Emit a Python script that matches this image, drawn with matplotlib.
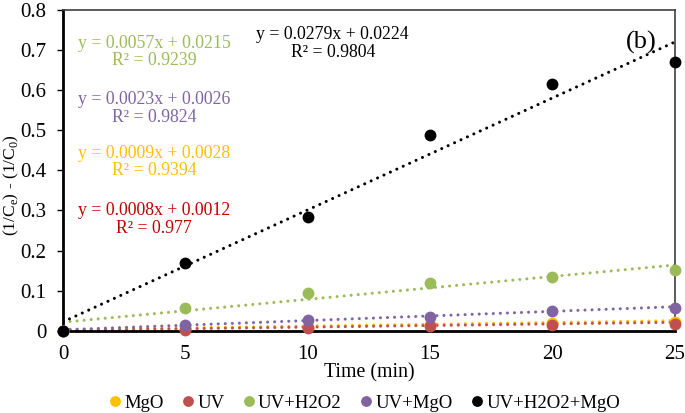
import numpy as np
import matplotlib
matplotlib.use("Agg")
import matplotlib.pyplot as plt

plt.rcParams['font.family'] = ['Liberation Serif', 'DejaVu Serif']
plt.rcParams['mathtext.fontset'] = 'custom'
plt.rcParams['mathtext.rm'] = 'Liberation Serif'

time_min = [0, 5, 10, 15, 20, 25]
labels = ['MgO', 'UV', 'UV+H2O2', 'UV+MgO', 'UV+H2O2+MgO']
values = {
    'MgO': [0, 0.005, 0.009, 0.014, 0.020, 0.022],
    'UV': [0, 0.002, 0.008, 0.012, 0.015, 0.018],
    'UV+H2O2': [0, 0.058, 0.095, 0.118, 0.133, 0.151],
    'UV+MgO': [0, 0.015, 0.027, 0.035, 0.050, 0.056],
    'UV+H2O2+MgO': [0, 0.170, 0.284, 0.489, 0.616, 0.670],
}
slopes = {'MgO': 0.0009, 'UV': 0.0008, 'UV+H2O2': 0.0057, 'UV+MgO': 0.0023, 'UV+H2O2+MgO': 0.0279}
intercepts = {'MgO': 0.0028, 'UV': 0.0012, 'UV+H2O2': 0.0215, 'UV+MgO': 0.0026, 'UV+H2O2+MgO': 0.0224}
r2 = {'MgO': '0.9394', 'UV': '0.977', 'UV+H2O2': '0.9239', 'UV+MgO': '0.9824', 'UV+H2O2+MgO': '0.9804'}

colors = {'MgO': '#FFC000', 'UV': '#C0504D', 'UV+H2O2': '#9BBB59', 'UV+MgO': '#8064A2', 'UV+H2O2+MgO': '#000000'}
text_colors = {'MgO': '#FFC000', 'UV': '#C00000', 'UV+H2O2': '#9BBB59', 'UV+MgO': '#8064A2', 'UV+H2O2+MgO': '#000000'}
# equation label positions (axes fraction)
eq_pos = {'UV+H2O2': (0.149, 0.869), 'UV+MgO': (0.149, 0.693), 'MgO': (0.149, 0.526),
          'UV': (0.149, 0.347), 'UV+H2O2+MgO': (0.441, 0.896)}

fig = plt.figure(figsize=(6.85, 4.13), dpi=100)
ax = fig.add_axes([0.092, 0.199, 0.893, 0.777])

xs = np.array([0, 25])
for lab in labels:
    c = colors[lab]
    ax.plot(xs, slopes[lab] * xs + intercepts[lab], linestyle=(0, (0.01, 2.3)), lw=2.2,
            color=c, dash_capstyle='round', zorder=2)
for lab in labels:
    ax.plot(time_min, values[lab], 'o', ms=7.5, color=colors[lab], label=lab,
            clip_on=False, zorder=3)

for lab in labels:
    x, y = eq_pos[lab]
    ax.text(x, y, 'y = %.4fx + %.4f\nR² = %s' % (slopes[lab], intercepts[lab], r2[lab]),
            transform=ax.transAxes, ha='center', va='center', fontsize=12.8,
            color=text_colors[lab], linespacing=1.05)

ax.text(0.946, 0.90, '(b)', transform=ax.transAxes, ha='center', va='center', fontsize=19)

ax.set_xlim(0, 25)
ax.set_ylim(0, 0.8)
ax.set_xticks([0, 5, 10, 15, 20, 25])
ax.set_yticks(np.arange(0, 0.81, 0.1))
ax.set_yticklabels(['0', '0.1', '0.2', '0.3', '0.4', '0.5', '0.6', '0.7', '0.8'])
ax.tick_params(labelsize=15)
ax.tick_params(axis='y', direction='out', length=4, width=1.0, pad=8)
ax.tick_params(axis='x', length=0, pad=10)
ax.spines['left'].set_linewidth(2.0)
ax.spines['bottom'].set_linewidth(2.0)
ax.spines['top'].set_linewidth(1.2)
ax.spines['right'].set_linewidth(1.2)
ax.spines['top'].set_color('#404040')
ax.spines['right'].set_color('#404040')
ax.set_xlabel('Time (min)', fontsize=14.3, labelpad=0)
ax.set_ylabel(r'(1/C$_\mathregular{e}$) - (1/C$_\mathregular{0}$)', fontsize=12.5)
ax.yaxis.set_label_coords(-0.068, 0.455)

ax.legend(loc='center', bbox_to_anchor=(0.49, -0.225), ncol=5, frameon=False,
          fontsize=13.5, handletextpad=0.0, columnspacing=0.8, handlelength=1.0,
          markerscale=0.9)

fig.savefig('out.png', dpi=100)
